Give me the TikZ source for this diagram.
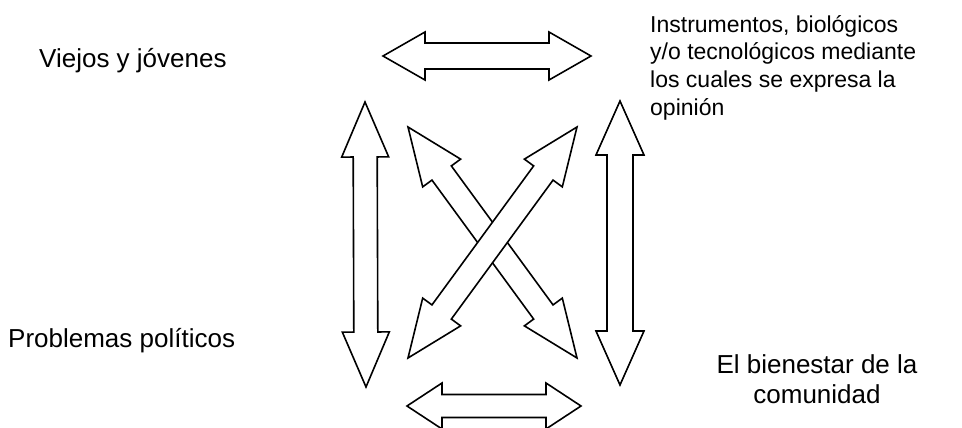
\documentclass[tikz,border=0pt]{standalone}
\usepackage{fontspec}
\setmainfont{Liberation Sans}
\usetikzlibrary{calc}

\begin{document}
\begin{tikzpicture}[x=1pt,y=-1pt,
    blockarrow/.style={draw=black,fill=white,line width=1.6pt},
    tema/.style={inner sep=0pt,font=\fontsize{26}{30}\selectfont}]
            \useasboundingbox (0,0) rectangle (962,428);
            \node[tema,anchor=base west] (viejos) at (39,68) {Viejos y jóvenes};
            \node[tema,anchor=base west] (problemas) at (8,347) {Problemas políticos};
            \node[tema,anchor=north west,align=left,font=\fontsize{23}{27.7}\selectfont] (instrumentos) at (650,15)
                {Instrumentos, biológicos\\y/o tecnológicos mediante\\los cuales se expresa la\\opinión};
            \node[tema,anchor=north,align=center] (bienestar) at (817,354) {El bienestar de la\\comunidad};
            % extremos de las flechas
            \foreach \n/\x/\y in {vj-e/383/56,in-w/591/56,pp-e/407/406,bc-w/581/406,vj-s/365/102,pp-n/366/387,in-s/620/101,bc-n/620/385,vj-se/408/127,bc-nw/577/358,in-sw/577/127,pp-ne/408/358}
            {
                \coordinate (\n) at (\x,\y);
            }
            \foreach \a/\b/\w/\h/\l in {vj-e/in-w/13pt/24pt/42pt,pp-e/bc-w/11.5pt/23pt/35pt,vj-s/pp-n/12pt/23.5pt/55pt,in-s/bc-n/13pt/24pt/54pt,vj-se/bc-nw/12pt/23.5pt/57pt,in-sw/pp-ne/12pt/23.5pt/57pt}
            {
                \draw[blockarrow] (\a) -- ($(\a)!\l!(\b)!\h!90:(\b)$) -- ($(\a)!\l!(\b)!\w!90:(\b)$)
                    -- ($(\b)!\l!(\a)!\w!-90:(\a)$) -- ($(\b)!\l!(\a)!\h!-90:(\a)$) -- (\b)
                    -- ($(\b)!\l!(\a)!\h!90:(\a)$) -- ($(\b)!\l!(\a)!\w!90:(\a)$)
                    -- ($(\a)!\l!(\b)!\w!-90:(\b)$) -- ($(\a)!\l!(\b)!\h!-90:(\b)$) -- cycle;
            }
        \end{tikzpicture}
\end{document}
